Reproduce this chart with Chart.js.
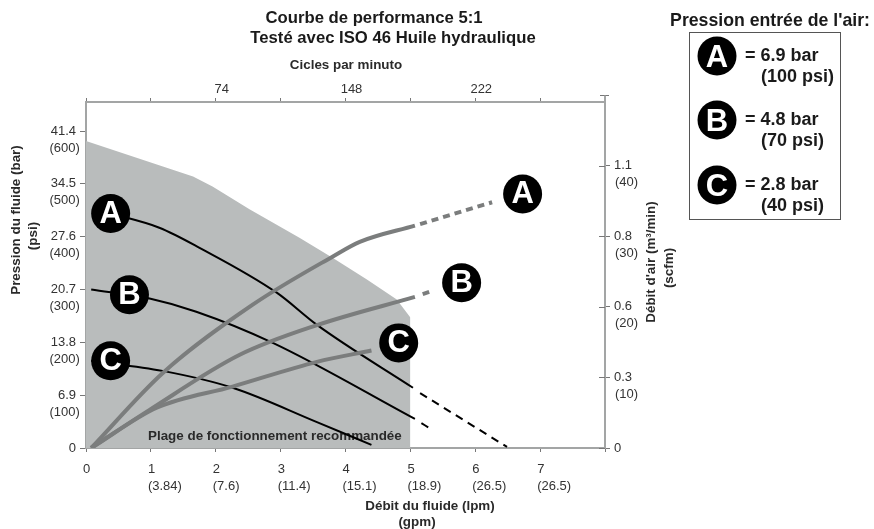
<!DOCTYPE html>
<html lang="fr">
<head>
<meta charset="utf-8">
<title>Courbe de performance 5:1</title>
<script src="https://cdn.jsdelivr.net/npm/chart.js@4"></script>
<style>
    html, body { margin: 0; padding: 0; background: #fff; }
    body { position: relative; width: 874px; height: 529px; overflow: hidden; font-family: "Liberation Sans", Arial, sans-serif; color: #1a1a1a; }
    canvas { position: absolute; left: 0; top: 0; }
    .lbl { position: absolute; font-weight: bold; white-space: nowrap; transform: translate(-50%, -50%); line-height: 1; }
    .axis { font-size: 13.4px; color: #2a2a2a; }
    .vert { transform: translate(-50%, -50%) rotate(-90deg); }
    .main { font-size: 16.7px; }
    .legend-title { font-size: 17.7px; }
    #legendBox { position: absolute; left: 689px; top: 32px; width: 150px; height: 186px; border: 1.5px solid #555; box-sizing: content-box; }
    .badge { position: absolute; width: 39px; height: 39px; border-radius: 50%; background: #000; color: #fff; font-weight: bold; font-size: 31px; line-height: 40px; text-align: center; transform: translate(-50%, -50%); }
    .legend-text { position: absolute; left: 745px; font-weight: bold; font-size: 18px; line-height: 21px; white-space: nowrap; }
    .legend-text span { display: block; margin-left: 16px; }
</style>
</head>
<body>
<canvas id="perfChart" width="874" height="529"></canvas>

<div class="lbl main" style="left:374px;top:18px">Courbe de performance 5:1</div>
<div class="lbl main" style="left:393px;top:38px">Testé avec ISO 46 Huile hydraulique</div>
<div class="lbl axis" style="left:346px;top:65px">Cicles par minuto</div>
<div class="lbl axis vert" style="left:16px;top:220px">Pression du fluide (bar)</div>
<div class="lbl axis vert" style="left:33px;top:236px">(psi)</div>
<div class="lbl axis vert" style="left:651px;top:262px">Débit d'air (m³/min)</div>
<div class="lbl axis vert" style="left:669px;top:268px">(scfm)</div>
<div class="lbl axis" style="left:430px;top:506px">Débit du fluide (lpm)</div>
<div class="lbl axis" style="left:417px;top:522px">(gpm)</div>

<div class="lbl legend-title" style="left:770px;top:21px">Pression entrée de l'air:</div>
<div id="legendBox"></div>
<div class="badge" style="left:717px;top:56px">A</div>
<div class="legend-text" style="top:45px">= 6.9 bar<span>(100 psi)</span></div>
<div class="badge" style="left:717px;top:120px">B</div>
<div class="legend-text" style="top:109px">= 4.8 bar<span>(70 psi)</span></div>
<div class="badge" style="left:717px;top:185px">C</div>
<div class="legend-text" style="top:174px">= 2.8 bar<span>(40 psi)</span></div>

<script>
// Axis labels
const flowTicks = [['0'], ['1', '(3.84)'], ['2', '(7.6)'], ['3', '(11.4)'], ['4', '(15.1)'], ['5', '(18.9)'], ['6', '(26.5)'], ['7', '(26.5)'], ['']];
const cycleTicks = ['', '', '74', '', '148', '', '222', '', ''];
const barTicks = ['0', '6.9', '13.8', '20.7', '27.6', '34.5', '41.4'];
const psiTicks = ['', '(100)', '(200)', '(300)', '(400)', '(500)', '(600)'];
const airTicks = ['0', '0.3', '0.6', '0.8', '1.1'];
const scfmTicks = ['', '(10)', '(20)', '(30)', '(40)'];

// Recommended operating range (gpm, psi)
const rangeX = [0, 1.65, 1.95, 2.52, 3.29, 3.8, 4.33, 4.79, 5];
const rangeY = [581, 514, 495, 452, 398, 360, 319, 281, 247];

// Fluid pressure curves (gpm, psi)
const pressureAX = [0.38, 1.13, 1.75, 2.94, 3.56, 5.04];
const pressureAY = [444, 417, 379, 294, 233, 114];
const pressureADashX = [5.15, 6.49];
const pressureADashY = [104, 2];
const pressureBX = [0.08, 0.98, 1.7, 2.88, 5.07];
const pressureBY = [300, 283, 258, 199, 55];
const pressureBDashX = [5.17, 5.29];
const pressureBDashY = [47, 38];
const pressureCX = [0.08, 1.18, 2.26, 3.56, 4.4];
const pressureCY = [165, 146, 114, 49, 6];

// Air flow curves (gpm, scfm)
const airAX = [0.08, 1.18, 2.57, 3.8, 4.22, 5.07];
const airAY = [0, 10.6, 20.3, 27.1, 29.2, 31.5];
const airADashX = [5.15, 6.26];
const airADashY = [31.7, 34.8];
const airBX = [0.08, 0.98, 2.37, 3.56, 5.07];
const airBY = [0, 5.4, 13.2, 17.4, 21.4];
const airBDashX = [5.19, 5.29];
const airBDashY = [21.8, 22.1];
const airCX = [0.08, 1.09, 2.26, 3.56, 4.4];
const airCY = [0, 5.7, 8.7, 12.2, 13.8];

// Letter badges on the curves (gpm, psi)
const badgeLetters = ['A', 'B', 'C', 'A', 'B', 'C'];
const badgeX = [0.38, 0.67, 0.38, 6.73, 5.79, 4.82];
const badgeY = [444, 290, 165, 481, 313, 199];

const axisGray = '#a3a5a5';
const tickGray = '#777';
const tickText = '#333';
const tickFont = { family: '"Liberation Sans", Arial, sans-serif', size: 13, lineHeight: 1.3 };

function zip(xs, ys) {
    return xs.map((x, i) => ({ x: x, y: ys[i] }));
}

function pressureLine(xs, ys, dashed) {
    return {
        data: zip(xs, ys), xAxisID: 'x', yAxisID: 'y', order: 3,
        borderColor: '#000', borderWidth: 2, pointRadius: 0,
        borderDash: dashed ? [8, 6] : [], cubicInterpolationMode: 'monotone'
    };
}

function airLine(xs, ys, dashed) {
    return {
        data: zip(xs, ys), xAxisID: 'x', yAxisID: 'y2', order: 2,
        borderColor: '#7b7d7d', borderWidth: 4, pointRadius: 0,
        borderDash: dashed ? [7, 5] : [], cubicInterpolationMode: 'monotone'
    };
}

// Text and small marks that the scales can't do on their own
const extrasPlugin = {
    id: 'extras',
    afterDatasetDraw(chart, args) {
        // the caption sits on the grey area, under the curves
        if (args.index !== 0) return;
        const ctx = chart.ctx;
        ctx.save();
        ctx.font = 'bold 13.4px "Liberation Sans", Arial, sans-serif';
        ctx.fillStyle = '#2a2a2a';
        ctx.textAlign = 'left';
        ctx.textBaseline = 'middle';
        ctx.fillText('Plage de fonctionnement recommandée', 148, 436);
        ctx.restore();
    },
    afterDraw(chart) {
        const ctx = chart.ctx;
        const yLeft = chart.scales.y;
        const yRight = chart.scales.y2;
        ctx.save();
        ctx.font = '13px "Liberation Sans", Arial, sans-serif';
        ctx.fillStyle = tickText;
        ctx.textAlign = 'left';
        ctx.textBaseline = 'middle';

        // second line of the y tick labels, below the tick
        yLeft.ticks.forEach((t, i) => {
            ctx.fillText(psiTicks[i], 49.5, yLeft.getPixelForValue(t.value) + 17);
        });
        yRight.ticks.forEach((t, i) => {
            ctx.fillText(scfmTicks[i], 615, yRight.getPixelForValue(t.value) + 17);
        });

        // right ticks cross the axis, and the axis runs up to 50 scfm
        ctx.strokeStyle = tickGray;
        ctx.lineWidth = 1;
        const right = yRight.left;
        yRight.ticks.forEach(t => {
            const py = Math.round(yRight.getPixelForValue(t.value)) + 0.5;
            ctx.beginPath();
            ctx.moveTo(right - 6, py);
            ctx.lineTo(right, py);
            ctx.stroke();
        });
        const topPy = Math.round(yRight.getPixelForValue(50)) + 0.5;
        ctx.beginPath();
        ctx.moveTo(right - 5, topPy);
        ctx.lineTo(right + 4, topPy);
        ctx.stroke();
        ctx.strokeStyle = axisGray;
        ctx.lineWidth = 2;
        ctx.beginPath();
        ctx.moveTo(right, topPy);
        ctx.lineTo(right, chart.chartArea.top);
        ctx.stroke();

        // badge letters
        const badgeMeta = chart.getDatasetMeta(chart.data.datasets.length - 1);
        ctx.font = 'bold 31px "Liberation Sans", Arial, sans-serif';
        ctx.fillStyle = '#fff';
        ctx.textAlign = 'center';
        badgeMeta.data.forEach((pt, i) => {
            ctx.fillText(badgeLetters[i], pt.x, pt.y + 1);
        });
        ctx.restore();
    }
};

const chartConfig = {
    type: 'scatter',
    data: {
        datasets: [
            {
                data: zip(rangeX, rangeY), xAxisID: 'x', yAxisID: 'y', order: 4,
                showLine: true, fill: 'origin', backgroundColor: '#b9bcbc',
                borderWidth: 0, pointRadius: 0
            },
            pressureLine(pressureAX, pressureAY, false),
            pressureLine(pressureADashX, pressureADashY, true),
            pressureLine(pressureBX, pressureBY, false),
            pressureLine(pressureBDashX, pressureBDashY, true),
            pressureLine(pressureCX, pressureCY, false),
            airLine(airAX, airAY, false),
            airLine(airADashX, airADashY, true),
            airLine(airBX, airBY, false),
            airLine(airBDashX, airBDashY, true),
            airLine(airCX, airCY, false),
            {
                data: zip(badgeX, badgeY), xAxisID: 'x', yAxisID: 'y', order: 1,
                showLine: false, pointRadius: 19.5, pointHoverRadius: 19.5,
                backgroundColor: '#000', borderWidth: 0
            }
        ].map(d => Object.assign({ showLine: true, fill: false }, d))
    },
    options: {
        responsive: false,
        animation: false,
        layout: { padding: 0 },
        plugins: { legend: { display: false }, tooltip: { enabled: false } },
        scales: {
            x: {
                type: 'linear', position: 'bottom', min: 0, max: 8,
                afterFit(scale) { scale.height = 81; },
                border: { color: axisGray, width: 2 },
                grid: { drawOnChartArea: false, color: tickGray, tickLength: 4 },
                ticks: {
                    stepSize: 1, autoSkip: false, maxRotation: 0, align: 'start', labelOffset: -3,
                    color: tickText, font: tickFont, padding: 9,
                    callback: (v) => flowTicks[v]
                }
            },
            xTop: {
                type: 'linear', position: 'top', min: 0, max: 8,
                afterFit(scale) { scale.height = 102; },
                border: { color: axisGray, width: 2 },
                grid: { drawOnChartArea: false, color: tickGray, tickLength: 4 },
                ticks: {
                    stepSize: 1, autoSkip: false, maxRotation: 0, labelOffset: 6,
                    color: tickText, font: tickFont, padding: 0,
                    callback: (v) => cycleTicks[v]
                }
            },
            y: {
                type: 'linear', position: 'left', min: 0, max: 655,
                afterFit(scale) { scale.width = 86; },
                border: { color: axisGray, width: 2 },
                grid: { drawOnChartArea: false, color: tickGray, tickLength: 6 },
                ticks: {
                    stepSize: 100, includeBounds: false,
                    color: tickText, font: tickFont, padding: 4,
                    callback: (v) => barTicks[v / 100]
                }
            },
            y2: {
                type: 'linear', position: 'right', min: 0, max: 49,
                afterFit(scale) { scale.width = 269; },
                border: { color: axisGray, width: 2 },
                grid: { drawOnChartArea: false, color: tickGray, tickLength: 5 },
                ticks: {
                    stepSize: 10, includeBounds: false,
                    color: tickText, font: tickFont, padding: 4,
                    callback: (v) => airTicks[v / 10]
                }
            }
        }
    },
    plugins: [extrasPlugin]
};

const ctx = document.getElementById('perfChart').getContext('2d');
const chart = new Chart(ctx, chartConfig);
</script>
</body>
</html>
